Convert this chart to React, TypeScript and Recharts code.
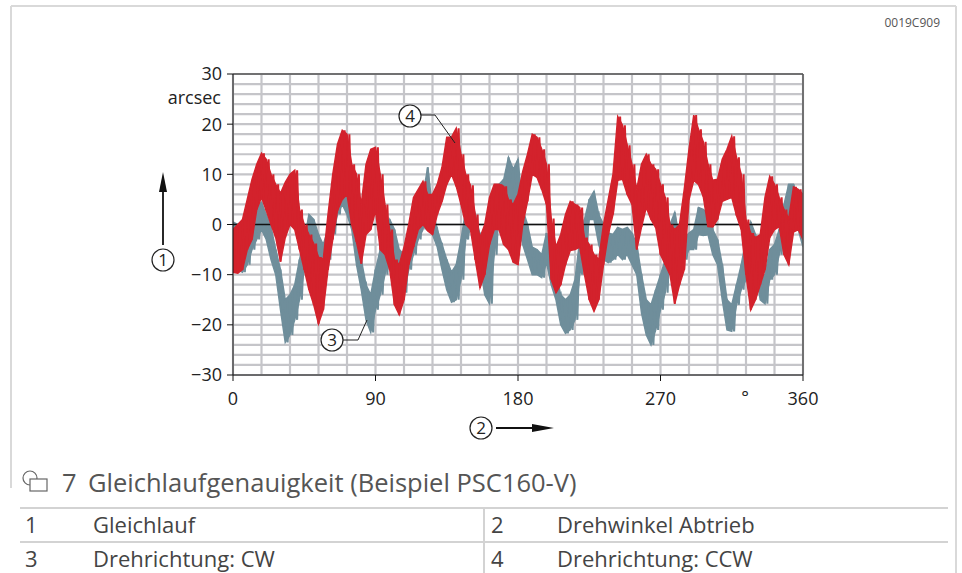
import { ComposedChart, Area, Line, XAxis, YAxis, ReferenceLine, CartesianGrid } from "recharts"

const ANGLES = [
  0, 3, 6, 9, 12, 15, 18, 21, 24, 27, 30, 33, 36, 39, 42, 45, 48, 51, 54, 57,
  60, 63, 66, 69, 72, 75, 78, 81, 84, 87, 90, 93, 96, 99, 102, 105, 108, 111, 114, 117,
  120, 123, 126, 129, 132, 135, 138, 141, 144, 147, 150, 153, 156, 159, 162, 165, 168, 171, 174, 177,
  180, 183, 186, 189, 192, 195, 198, 201, 204, 207, 210, 213, 216, 219, 222, 225, 228, 231, 234, 237,
  240, 243, 246, 249, 252, 255, 258, 261, 264, 267, 270, 273, 276, 279, 282, 285, 288, 291, 294, 297,
  300, 303, 306, 309, 312, 315, 318, 321, 324, 327, 330, 333, 336, 339, 342, 345, 348, 351, 354, 357,
  360,
]

// Drehrichtung CW (grey) - upper / lower edge of the noise band, arcsec
const CW_HI = [
  0.5, 0, -2, -1, 2, 3.5, 4.4, 2, -0.5, -5, -9, -15, -14, -12, -7, -3, 2, 1, -2, -4,
  -1, 5, 7, 8.8, 7, 5, -2, -7, -12, -14, -9, -5, -3, 1, -1, -5, -6, -2, 1, 4,
  6, 11.4, 3, -1, -4, -7, -9.5, -8, -3, 3, 5.5, 2, -2, -7, -4, 3, 8, 9, 13.4, 11,
  13, 3, 0, -4.5, -5, -6, -1.7, -7, -10, -14, -15, -14, -11, -3, 1, 5, 6.6, 2, 0, -1.7,
  -2, -0.6, -1, -0.6, -1.7, -4, -10, -15, -16, -13, -10, -7, 0, 2.4, -2.6, -3, -1.7, -1, 3.4, 3,
  2, -1, -3, -8, -15, -16, -12, -8, -3, 0.5, -2, -10, -10, -5, -4, -1, 4, 8, 8, 5.4,
  2,
]
const CW_LO = [
  -6, -9, -9.5, -8, -5, -3, -1, -3, -7, -10, -17, -23.5, -22, -19, -15, -9, -4, -5, -9, -11,
  -7, -2, 2, 4, 2, -1, -8, -13, -19, -21.5, -17, -14, -10, -6, -8, -12, -13.6, -9, -6, -3,
  -1, 5, -2, -4.5, -9, -13, -15.5, -15, -11, -3, -1, -2.6, -8, -14, -15.8, -6, 1, 2, 5, 4,
  0, -4, -7, -10, -10, -10.6, -7.6, -12, -15, -20, -21.7, -21, -19, -10, -6, 1, 1, -4, -7, -7.6,
  -7, -6, -7, -6, -8, -10, -17.6, -22, -24, -21, -17, -13.6, -6, -1.5, -7.6, -7, -5, -5, -2, -2.2,
  -2, -6, -8, -15, -21, -21.3, -16, -13, -11, -6, -9, -15, -15.8, -11, -10, -6, -2, 2, 3, -1,
  -4.5,
]

// Drehrichtung CCW (red)
const CCW_HI = [
  -1, 0, 1, 5, 9, 12, 14.2, 13, 10, 8, 6.2, 8.4, 10, 10.8, 3, 0, -2, -3.8, -6.5, -7,
  2, 10, 16, 18.8, 18, 12, 10, 4, 12, 15, 15.4, 10, 4, -1, -7, -8, -4.5, 0, 5.4, 7,
  8.6, 6, 6, 8, 11.4, 17.4, 17.4, 19.2, 14, 10, 7.8, 2, -2.6, 0, 5.4, 8, 8, 7.6, 5, 4,
  6, 10.6, 14, 18, 17.4, 15, 12, 1.2, -4.5, -2, 2, 4.6, 4, 3.4, -2.6, -4, -6, -7, 0, 5,
  10, 21.5, 19.8, 15.8, 12, 7, 12, 14, 12, 11, 8, 5.4, 0, -1, 0, 7, 15, 21.8, 19, 16.5,
  12, 8.8, 9, 13, 15, 17.6, 13.4, 10, 1, -1.7, -2.6, -2, 5.4, 9.6, 8, 5.4, 3, 1.2, 7.5, 7,
  6,
]
const CCW_LO = [
  -9.5, -9.7, -9, -5, -3, 3, 5.4, 2.8, 0, -2.6, -7.4, -2.6, 0, -1, -5, -9, -13, -16, -19.8, -17,
  -9, -3, 2.8, 5, 6, 0, -3.5, -7.8, -2, -1, 2.8, -5, -6, -9, -16, -18, -15, -8, -4.5, -1,
  0, -1.3, -2, 2, 4.6, 8, 10, 7.6, 4, 0, -1, -7, -12.6, -10, -4, -1, -1, -4, -5, -7.5,
  -8, 0, 4.6, 10, 9.4, 7, 4, -11, -13.6, -12, -8, -5.2, -5, -4.5, -10, -15, -17.3, -15, -8, -2,
  2, 8.8, 9, 6, 4, -5, -0.5, 3.4, 1, -0.6, -6, -8, -10, -15.8, -12, -9, 5, 8.8, 8, 5.6,
  -0.4, -0.5, 1, 4.6, 5, 5.4, 1.8, -1, -10, -17, -15, -12, -9, -2.6, -1, -0.4, -6, -8, -1.5, -1,
  -3,
]

// grid every 18° / 2 arcsec, labels only on the major values
const GRID_X = [0, 18, 36, 54, 72, 90, 108, 126, 144, 162, 180, 198, 216, 234, 252, 270, 288, 306, 324, 342, 360]
const GRID_Y = [
  -30, -28, -26, -24, -22, -20, -18, -16, -14, -12, -10, -8, -6, -4, -2, 0,
  2, 4, 6, 8, 10, 12, 14, 16, 18, 20, 22, 24, 26, 28, 30,
]
const X_LABELS = [0, 90, 180, 270, 360]
const Y_LABELS = [-30, -20, -10, 0, 10, 20, 30]
const ZERO_LINE = [
  { a: 0, v: 0 },
  { a: 360, v: 0 },
]

const LEGEND_ROWS = [
  ["1", "Gleichlauf", "2", "Drehwinkel Abtrieb"],
  ["3", "Drehrichtung: CW", "4", "Drehrichtung: CCW"],
]

const RED = "#d3222c"
const GREY = "#6f8e9b"
const GRID = "#c5c5c9"
const FONT = "'Open Sans', 'Noto Sans', sans-serif"
const TICK = 6
const X_MARGIN = 11
const Y_MARGIN = 5

// range rows for the filled band
const bandRows = ANGLES.map((a, i) => ({
  a,
  cw: [CW_LO[i], CW_HI[i]],
  ccw: [CCW_LO[i], CCW_HI[i]],
}))

// zigzag between the two edges gives the noisy look
const cwZig = ANGLES.flatMap((a, i) => [
  { a, v: CW_HI[i] },
  { a: a + 1.5, v: CW_LO[i] },
])
const ccwZig = ANGLES.flatMap((a, i) => [
  { a, v: CCW_LO[i] },
  { a: a + 1.5, v: CCW_HI[i] },
])

const fmtY = (v: number) => (v < 0 ? "\u2212" + Math.abs(v) : String(v))

function XTick(props: any) {
  const { x, y, payload } = props
  if (!X_LABELS.includes(payload.value)) return <g />
  const top = y - X_MARGIN - TICK
  return (
    <g>
      <line x1={x} y1={top} x2={x} y2={top + TICK} stroke="#111" strokeWidth={1} />
      <text x={x} y={y} dy="0.71em" textAnchor="middle" fontSize={18} fill="#222" fontFamily={FONT}>
        {payload.value}
      </text>
    </g>
  )
}

function YTick(props: any) {
  const { x, y, payload } = props
  if (!Y_LABELS.includes(payload.value)) return <g />
  const right = x + Y_MARGIN + TICK
  return (
    <g>
      <line x1={right - TICK} y1={y} x2={right} y2={y} stroke="#111" strokeWidth={1} />
      <text x={x} y={y} dy="0.355em" textAnchor="end" fontSize={18} fill="#222" fontFamily={FONT}>
        {fmtY(payload.value)}
      </text>
    </g>
  )
}

function Marker({ cx, cy, label }: { cx: number; cy: number; label: string }) {
  return (
    <g>
      <circle cx={cx} cy={cy} r={11} fill="#fff" stroke="#222" strokeWidth={1.2} />
      <text x={cx} y={cy + 6} textAnchor="middle" fontSize={17} fill="#222" fontFamily={FONT}>
        {label}
      </text>
    </g>
  )
}

export default function App() {
  return (
    <div
      style={{
        position: "absolute",
        left: 0,
        top: 0,
        width: 962,
        height: 573,
        background: "#fff",
        overflow: "hidden",
        fontFamily: FONT,
      }}
    >
      <ComposedChart width={962} height={573} margin={{ top: 74, right: 159, bottom: 168, left: 173 }}>
        <CartesianGrid stroke={GRID} strokeWidth={2.2} />
        <XAxis
          dataKey="a"
          type="number"
          domain={[0, 360]}
          allowDataOverflow
          ticks={GRID_X}
          interval={0}
          height={30}
          tickSize={TICK}
          tickMargin={X_MARGIN}
          tickLine={false}
          stroke="#111"
          tick={<XTick />}
        />
        <YAxis
          type="number"
          domain={[-30, 30]}
          allowDataOverflow
          ticks={GRID_Y}
          interval={0}
          width={60}
          tickSize={TICK}
          tickMargin={Y_MARGIN}
          tickLine={false}
          stroke="#111"
          tick={<YTick />}
        />
        <Area
          data={bandRows}
          dataKey="cw"
          type="linear"
          stroke={GREY}
          strokeWidth={1.5}
          fill={GREY}
          fillOpacity={1}
          zIndex={100}
          isAnimationActive={false}
        />
        <Line
          data={cwZig}
          dataKey="v"
          type="linear"
          stroke={GREY}
          strokeWidth={2}
          dot={false}
          zIndex={101}
          isAnimationActive={false}
        />
        <Line
          data={ZERO_LINE}
          dataKey="v"
          type="linear"
          stroke="#111"
          strokeWidth={1.5}
          dot={false}
          zIndex={102}
          isAnimationActive={false}
        />
        <Area
          data={bandRows}
          dataKey="ccw"
          type="linear"
          stroke={RED}
          strokeWidth={1.5}
          fill={RED}
          fillOpacity={1}
          zIndex={103}
          isAnimationActive={false}
        />
        <Line
          data={ccwZig}
          dataKey="v"
          type="linear"
          stroke={RED}
          strokeWidth={2}
          dot={false}
          zIndex={104}
          isAnimationActive={false}
        />
        <ReferenceLine y={30} stroke="#555" strokeWidth={1.5} zIndex={105} />
        <ReferenceLine x={360} stroke="#555" strokeWidth={1.5} zIndex={105} />
      </ComposedChart>

      <svg
        width={962}
        height={573}
        style={{ position: "absolute", left: 0, top: 0, pointerEvents: "none" }}
      >
        {/* figure frame */}
        <line x1={11} y1={6} x2={956} y2={6} stroke="#d9d9d9" strokeWidth={2} />
        <line x1={11} y1={6} x2={11} y2={488} stroke="#d9d9d9" strokeWidth={2} />
        <line x1={956} y1={6} x2={956} y2={573} stroke="#d9d9d9" strokeWidth={2} />
        <text x={940} y={27} textAnchor="end" fontSize={12} fill="#555" fontFamily={FONT}>
          0019C909
        </text>

        {/* axis labels */}
        <text x={221} y={104} textAnchor="end" fontSize={18} fill="#222" fontFamily={FONT}>
          arcsec
        </text>
        <text x={745} y={404} textAnchor="middle" fontSize={18} fill="#222" fontFamily={FONT}>
          °
        </text>

        {/* y arrow */}
        <line x1={163} y1={245} x2={163} y2={188} stroke="#111" strokeWidth={1.8} />
        <polygon points="163,172 159,192 167,192" fill="#111" />
        <Marker cx={163} cy={260} label="1" />

        {/* x arrow */}
        <Marker cx={481} cy={428} label="2" />
        <line x1={496} y1={428} x2={535} y2={428} stroke="#111" strokeWidth={1.8} />
        <polygon points="554,428 532,424 532,432" fill="#111" />

        {/* series callouts */}
        <polyline points="343,340 358,340 367,320" fill="none" stroke="#222" strokeWidth={1} />
        <Marker cx={332} cy={340} label="3" />
        <polyline points="421,115 435,115 455,143" fill="none" stroke="#222" strokeWidth={1} />
        <Marker cx={410} cy={116} label="4" />

        {/* caption icon */}
        <circle cx={30} cy={478} r={7} fill="none" stroke="#666" strokeWidth={1.2} />
        <rect x={30} y={479} width={17} height={12} fill="#fff" stroke="#666" strokeWidth={1.2} />
        <text x={62} y={492} fontSize={25.5} fill="#555" fontFamily={FONT}>
          7
        </text>
        <text x={88} y={492} fontSize={25.5} fill="#555" fontFamily={FONT}>
          Gleichlaufgenauigkeit (Beispiel PSC160-V)
        </text>

        {/* legend table */}
        <line x1={20} y1={508} x2={948} y2={508} stroke="#d3d3d3" strokeWidth={2} />
        <line x1={20} y1={542} x2={948} y2={542} stroke="#d3d3d3" strokeWidth={2} />
        <line x1={484} y1={508} x2={484} y2={573} stroke="#d3d3d3" strokeWidth={2} />
        {LEGEND_ROWS.map((row, r) => (
          <g key={r} fontSize={22} fill="#444" fontFamily={FONT}>
            <text x={25} y={533 + r * 34}>{row[0]}</text>
            <text x={93} y={533 + r * 34}>{row[1]}</text>
            <text x={491} y={533 + r * 34}>{row[2]}</text>
            <text x={557} y={533 + r * 34}>{row[3]}</text>
          </g>
        ))}
      </svg>
    </div>
  )
}
